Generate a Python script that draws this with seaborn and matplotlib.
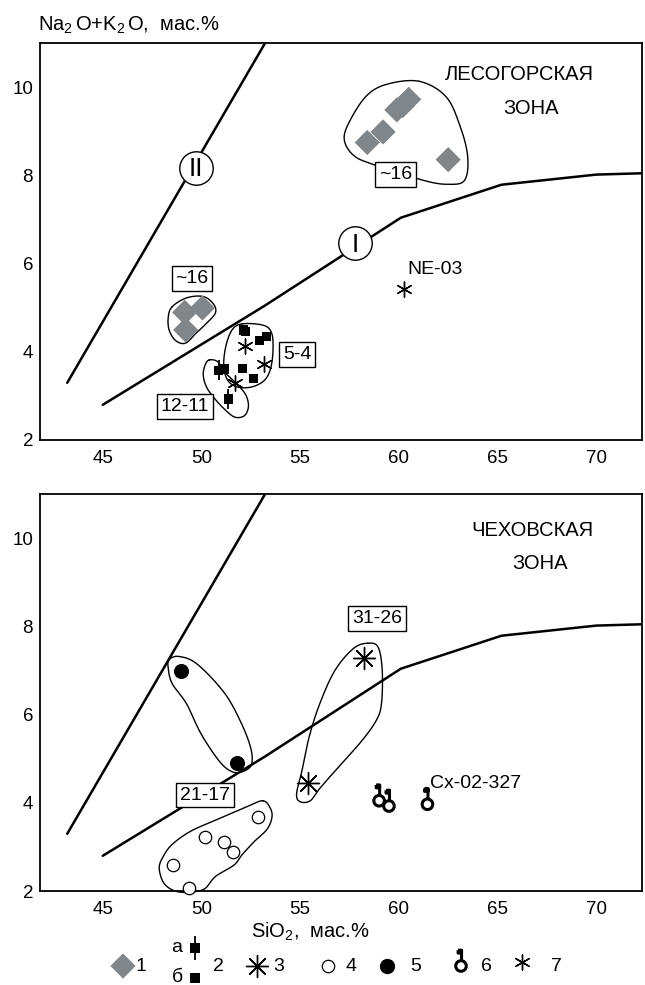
import numpy as np
import matplotlib
matplotlib.use("Agg")
import matplotlib.pyplot as plt
import seaborn as sns
from matplotlib.path import Path
from matplotlib.ticker import MultipleLocator

# --- boundary lines (same on both diagrams) ---
line2_sio2 = [43.2, 53.2]
line2_alk = [3.3, 11.0]
line1_sio2 = [45.0, 53.2, 60.1, 65.2, 70.0, 72.3]
line1_alk = [2.8, 5.05, 7.05, 7.8, 8.03, 8.06]

# --- Лесогорская зона ---
les_diam_sio2 = [58.4, 59.2, 59.9, 60.2, 60.5, 62.5, 49.15, 50.05, 49.2]
les_diam_alk = [8.76, 9.0, 9.5, 9.6, 9.74, 8.37, 4.9, 5.0, 4.5]
les_sqa_sio2 = [50.87, 51.36]
les_sqa_alk = [3.58, 2.93]
les_sqb_sio2 = [52.12, 52.22, 53.31, 52.93, 52.09, 52.64, 51.16]
les_sqb_alk = [4.50, 4.47, 4.35, 4.26, 3.63, 3.39, 3.61]
les_star_sio2 = [52.22, 53.18, 51.7, 60.24]
les_star_alk = [4.14, 3.73, 3.30, 5.42]

# --- Чеховская зона ---
che_ast_sio2 = [58.26, 55.4]
che_ast_alk = [7.3, 4.46]
che_open_sio2 = [52.84, 50.19, 51.13, 51.61, 48.57, 49.36]
che_open_alk = [3.67, 3.22, 3.12, 2.89, 2.6, 2.07]
che_black_sio2 = [48.98, 51.8]
che_black_alk = [7.0, 4.9]
che_flag_sio2 = [59.0, 59.5, 61.45]
che_flag_alk = [4.05, 3.93, 3.97]

# group outlines (SiO2, alk)
out_les_a = ([61.03, 62.39, 63.12, 63.49, 63.33, 62.49, 61.24, 58.64, 57.70, 57.24, 57.45, 58.32, 59.37],
             [10.15, 9.80, 9.11, 8.43, 7.90, 7.81, 7.90, 8.27, 8.47, 8.81, 9.19, 9.80, 10.08])
out_les_b = ([48.52, 49.25, 50.09, 50.61, 50.71, 50.30, 49.73, 49.19, 48.69, 48.36, 48.32],
             [5.03, 5.23, 5.26, 5.09, 4.89, 4.67, 4.43, 4.20, 4.26, 4.50, 4.80])
out_les_c = ([52.07, 53.11, 53.53, 53.63, 53.53, 53.22, 52.59, 51.86, 51.34, 51.13, 51.23, 51.55],
             [4.64, 4.61, 4.46, 4.12, 3.67, 3.37, 3.21, 3.20, 3.35, 3.67, 4.12, 4.50])
out_les_d = ([50.40, 50.82, 51.13, 51.76, 52.24, 52.38, 52.17, 51.69, 51.19, 50.65, 50.25, 50.09, 50.19],
             [3.82, 3.78, 3.56, 3.29, 3.03, 2.76, 2.55, 2.52, 2.69, 2.95, 3.21, 3.48, 3.71])
out_che_e = ([48.36, 48.84, 49.77, 51.13, 51.96, 52.49, 52.53, 52.07, 51.55, 50.92, 49.98, 49.25, 48.52, 48.32],
             [7.25, 7.33, 7.16, 6.52, 5.87, 5.26, 4.87, 4.71, 4.71, 4.94, 5.57, 6.25, 6.71, 7.05])
out_che_f = ([58.43, 58.95, 59.16, 59.12, 58.85, 58.12, 57.07, 56.03, 55.51, 54.99, 54.82, 55.09, 55.45, 55.99, 56.76, 57.70],
             [7.63, 7.54, 7.01, 6.25, 5.87, 5.41, 4.88, 4.35, 4.05, 4.03, 4.21, 4.73, 5.49, 6.25, 7.01, 7.51])
out_che_g = ([53.11, 53.49, 53.57, 53.32, 52.69, 52.07, 51.65, 50.71, 50.19, 49.57, 48.73, 48.11, 47.86, 48.07, 48.52, 49.46, 50.82, 52.28],
             [4.05, 3.88, 3.67, 3.40, 3.13, 2.83, 2.59, 2.33, 2.06, 1.98, 1.99, 2.17, 2.52, 2.79, 3.06, 3.36, 3.63, 3.91])

GRAY = '#80868a'

sns.set_theme(style='white')
plt.rcParams['font.family'] = ['Liberation Sans', 'DejaVu Sans']
plt.rcParams['mathtext.fontset'] = 'custom'
plt.rcParams['mathtext.rm'] = 'Liberation Sans'
plt.rcParams['mathtext.it'] = 'Liberation Sans:italic'
plt.rcParams['axes.edgecolor'] = 'black'
plt.rcParams['text.color'] = 'black'

# open-circle-with-flag marker (symbol 6): ring, short stem, small block flag
_circ = Path.circle((0, 0), 1.0)
_stem = Path([(0.1, 1.0), (0.1, 3.0)], [Path.MOVETO, Path.LINETO])
_flag = Path([(-0.55, 3.0), (0.1, 3.0), (0.1, 2.45), (-0.55, 2.45), (-0.55, 3.0), (0.1, 2.7), (-0.55, 2.7)],
             [Path.MOVETO, Path.LINETO, Path.LINETO, Path.LINETO, Path.LINETO, Path.MOVETO, Path.LINETO])
FLAG = Path.make_compound_path(_circ, _stem, _flag)
STAR6 = (6, 2, 0)
STAR8 = (8, 2, 0)

S_DIAM, S_SQ, S_STAR6, S_STAR8 = 165, 45, 120, 250
S_OPEN, S_BLACK, S_FLAG = 80, 100, 520


def smooth_closed(xs, ys, n=24):
    p = np.column_stack([xs, ys])
    m = len(p)
    t = np.linspace(0, 1, n, endpoint=False)[:, None]
    seg = []
    for i in range(m):
        p0, p1, p2, p3 = p[i - 1], p[i], p[(i + 1) % m], p[(i + 2) % m]
        seg.append(0.5 * (2 * p1 + (-p0 + p2) * t + (2 * p0 - 5 * p1 + 4 * p2 - p3) * t ** 2
                          + (-p0 + 3 * p1 - 3 * p2 + p3) * t ** 3))
    seg.append(seg[0][:1])
    pts = np.vstack(seg)
    return pts[:, 0], pts[:, 1]


def outline(ax, xy):
    x, y = smooth_closed(*xy)
    ax.plot(x, y, color='black', lw=1.0, zorder=2, clip_on=False)


def box(ax, x, y, s):
    ax.text(x, y, s, ha='center', va='center', fontsize=14, zorder=6,
            bbox=dict(boxstyle='square,pad=0.2', fc='white', ec='black', lw=1.0))


def base_axes(ax):
    sns.lineplot(x=line2_sio2, y=line2_alk, sort=False, estimator=None, color='black', lw=1.8, ax=ax)
    sns.lineplot(x=line1_sio2, y=line1_alk, sort=False, estimator=None, color='black', lw=1.8, ax=ax)
    ax.set_xlim(41.82, 72.32)
    ax.set_ylim(2, 11.02)
    ax.set_xticks([45, 50, 55, 60, 65, 70])
    ax.set_yticks([2, 4, 6, 8, 10])
    ax.xaxis.set_minor_locator(MultipleLocator(2.5))
    ax.yaxis.set_minor_locator(MultipleLocator(1))
    ax.tick_params(which='both', direction='in', top=False, right=False, colors='black', labelsize=13.5)
    ax.tick_params(which='major', length=6, width=1.2)
    ax.tick_params(which='minor', length=3.5, width=1.0)
    ax.tick_params(axis='x', pad=7)
    ax.tick_params(axis='y', pad=5)
    for sp in ax.spines.values():
        sp.set_linewidth(1.3)
        sp.set_color('black')
    ax.set_xlabel('')
    ax.set_ylabel('')


fig = plt.figure(figsize=(6.45, 9.85), dpi=100)
ax1 = fig.add_axes([40 / 645, 1 - 440 / 985, 602 / 645, 397 / 985])
ax2 = fig.add_axes([40 / 645, 1 - 891 / 985, 602 / 645, 397 / 985])
for ax in (ax1, ax2):
    base_axes(ax)

# ---------- top: Лесогорская ----------
for o in (out_les_a, out_les_b, out_les_c, out_les_d):
    outline(ax1, o)
sns.scatterplot(x=les_diam_sio2, y=les_diam_alk, marker='D', s=S_DIAM, color=GRAY, edgecolor='none', ax=ax1, zorder=4, clip_on=False)
ax1.plot(les_sqa_sio2, les_sqa_alk, ls='none', marker='|', ms=15, mew=1.3, color='black', zorder=4)
sns.scatterplot(x=les_sqa_sio2, y=les_sqa_alk, marker='s', s=S_SQ, color='black', edgecolor='none', ax=ax1, zorder=4)
sns.scatterplot(x=les_sqb_sio2, y=les_sqb_alk, marker='s', s=S_SQ, color='black', edgecolor='none', ax=ax1, zorder=4)
sns.scatterplot(x=les_star_sio2, y=les_star_alk, marker=STAR6, s=S_STAR6, color='black', linewidth=1.0, ax=ax1, zorder=5)

ax1.scatter([49.7], [8.18], s=580, marker='o', facecolor='white', edgecolor='black', linewidth=1.0, zorder=5)
ax1.text(49.7, 8.15, 'II', ha='center', va='center', fontsize=19, zorder=6)
ax1.scatter([57.8], [6.47], s=580, marker='o', facecolor='white', edgecolor='black', linewidth=1.0, zorder=5)
ax1.text(57.8, 6.44, 'I', ha='center', va='center', fontsize=19, zorder=6)

box(ax1, 59.85, 8.03, '~16')
box(ax1, 49.52, 5.67, '~16')
box(ax1, 54.86, 3.94, '5-4')
box(ax1, 49.15, 2.76, '12-11')
ax1.text(60.45, 5.88, 'NE-03', ha='left', va='center', fontsize=14)
ax1.text(66.1, 10.3, 'ЛЕСОГОРСКАЯ', ha='center', va='center', fontsize=14.5)
ax1.text(66.7, 9.53, 'ЗОНА', ha='center', va='center', fontsize=14.5)

# ---------- bottom: Чеховская ----------
for o in (out_che_e, out_che_f, out_che_g):
    outline(ax2, o)
sns.scatterplot(x=che_ast_sio2, y=che_ast_alk, marker=STAR8, s=S_STAR8, color='black', linewidth=1.0, ax=ax2, zorder=5)
sns.scatterplot(x=che_open_sio2, y=che_open_alk, marker='o', s=S_OPEN, facecolor='white', edgecolor='black', linewidth=0.9, ax=ax2, zorder=4, clip_on=False)
sns.scatterplot(x=che_black_sio2, y=che_black_alk, marker='o', s=S_BLACK, color='black', edgecolor='black', ax=ax2, zorder=4)
sns.scatterplot(x=che_flag_sio2, y=che_flag_alk, marker=FLAG, s=S_FLAG, facecolor='none', edgecolor='black', linewidth=2.2, ax=ax2, zorder=4)

box(ax2, 58.9, 8.19, '31-26')
box(ax2, 50.19, 4.18, '21-17')
ax2.text(61.6, 4.45, 'Сх-02-327', ha='left', va='center', fontsize=14)
ax2.text(66.77, 10.2, 'ЧЕХОВСКАЯ', ha='center', va='center', fontsize=14.5)
ax2.text(67.18, 9.44, 'ЗОНА', ha='center', va='center', fontsize=14.5)

# axis titles
fig.text(38 / 645, 1 - 25 / 985, r'Na$_2\,$O+K$_2\,$O,  мас.%', ha='left', va='center', fontsize=14.5)
fig.text(310 / 645, 1 - 932 / 985, r'SiO$_2$,  мас.%', ha='center', va='center', fontsize=14.5)

# ---------- legend ----------
legend_labels = ['1', '2', '3', '4', '5', '6', '7']
leg = fig.add_axes([0, 0, 1, 55 / 985])
leg.set_xlim(0, 645)
leg.set_ylim(985, 930)
leg.axis('off')
ly = 966
leg.scatter([123], [ly], marker='D', s=S_DIAM, color=GRAY, edgecolor='none')
leg.plot([195], [948], marker='|', ms=17, mew=1.3, color='black')
leg.scatter([195, 195], [948, 978], marker='s', s=S_SQ, color='black', edgecolor='none')
leg.text(177, 947, 'а', ha='center', va='center', fontsize=14)
leg.text(177, 977, 'б', ha='center', va='center', fontsize=14)
leg.scatter([257], [ly], marker=STAR8, s=S_STAR8, color='black', linewidth=1.0)
leg.scatter([328], [ly], marker='o', s=S_OPEN, facecolor='white', edgecolor='black', linewidth=0.9)
leg.scatter([387], [ly], marker='o', s=S_BLACK, color='black')
leg.scatter([461], [ly], marker=FLAG, s=S_FLAG, facecolor='none', edgecolor='black', linewidth=2.2)
leg.scatter([522], [ly - 4], marker=STAR6, s=S_STAR6, color='black', linewidth=1.0)
for lx, lab in zip([141, 218, 279, 351, 416, 486, 556], legend_labels):
    leg.text(lx, ly, lab, ha='center', va='center', fontsize=14)

fig.savefig('out.png', dpi=100)
